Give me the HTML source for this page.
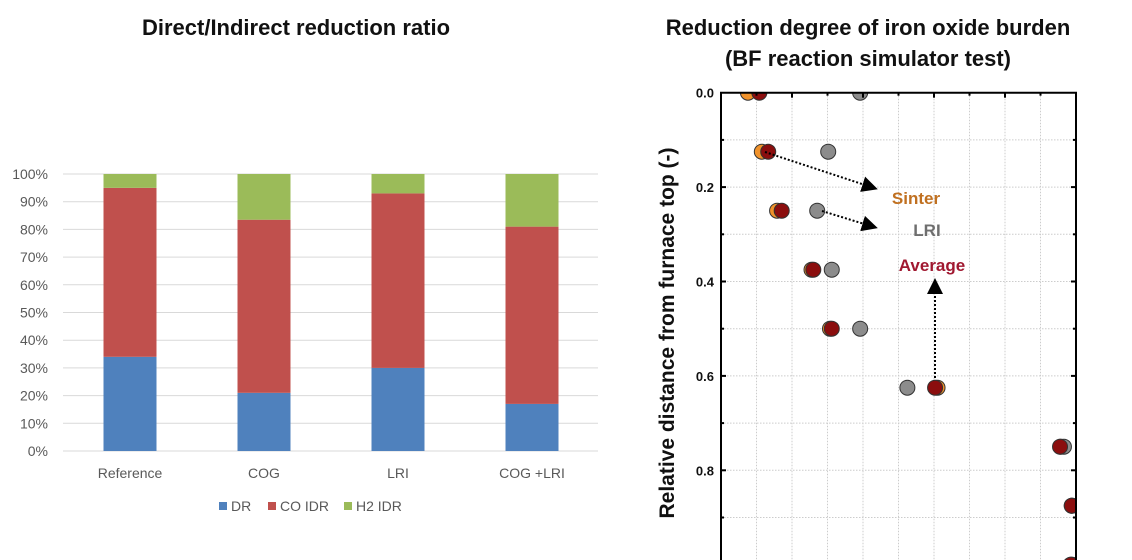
<!DOCTYPE html>
<html><head><meta charset="utf-8"><style>
html,body{margin:0;padding:0;background:#fff;overflow:hidden;}
svg{display:block;font-family:"Liberation Sans","Noto Sans CJK KR",sans-serif;}
</style></head><body>
<svg id="s" width="1132" height="560" viewBox="0 0 1132 560">
<text x="296" y="35" text-anchor="middle" font-size="22" font-weight="bold" fill="#111">Direct/Indirect reduction ratio</text>
<text x="868" y="35" text-anchor="middle" font-size="22" font-weight="bold" fill="#111">Reduction degree of iron oxide burden</text>
<text x="868" y="66" text-anchor="middle" font-size="22" font-weight="bold" fill="#111">(BF reaction simulator test)</text>
<g id="left"></g>
<g id="right"></g>
</svg>
<script>
const NS="http://www.w3.org/2000/svg";
function mk(p,t,a){const e=document.createElementNS(NS,t);for(const k in a)e.setAttribute(k,a[k]);p.appendChild(e);return e;}

// ---- left chart data
const categories=["Reference","COG","LRI","COG +LRI"];
const drValues=[34,21,30,17];
const coIdrValues=[61,62.5,63,64];
const h2IdrValues=[5,16.5,7,19];
const yTicksPct=[0,10,20,30,40,50,60,70,80,90,100];
const seriesNames=["DR","CO IDR","H2 IDR"];
const seriesColors=["#4f81bd","#c0504d","#9bbb59"];

const L=document.getElementById('left');
const ly=v=>451-v*2.77;
const lx=i=>130+i*134;
yTicksPct.forEach(t=>{
  const g=mk(L,'line',{x1:63,x2:598,y1:ly(t),y2:ly(t),stroke:'#d9d9d9','stroke-width':1});
  
  
  const tx=mk(L,'text',{x:48,y:ly(t)+5,'text-anchor':'end','font-size':14,fill:'#595959'});
  tx.textContent=t+'%';
  
  
});
categories.forEach((c,i)=>{
  const vals=[drValues[i],coIdrValues[i],h2IdrValues[i]];
  let base=0;
  vals.forEach((v,j)=>{
    const r=mk(L,'rect',{x:lx(i)-26.5,y:ly(base+v),width:53,height:ly(base)-ly(base+v),fill:seriesColors[j]});
    
    
    base+=v;
  });
  const t=mk(L,'text',{x:lx(i),y:478,'text-anchor':'middle','font-size':14,fill:'#595959'});
  t.textContent=c;
  
  
});
const legX=[219,268,344];
seriesNames.forEach((n,j)=>{
  const r=mk(L,'rect',{x:legX[j],y:502,width:8,height:8,fill:seriesColors[j]});
  
  
  const t=mk(L,'text',{x:legX[j]+12,y:511,'font-size':14,fill:'#595959'});
  t.textContent=n;
  
  
});

// ---- right chart data
const depthValues=[0,0.125,0.25,0.375,0.5,0.625,0.75,0.875,1.0];
const sinterX=[7.6,11.5,15.8,25.5,30.7,61,95.7,98.8,98.5];
const lriX=[39.2,30.2,27.1,31.2,39.2,52.5,96.6,99,99];
const averageX=[10.8,13.3,17.1,26,31.2,60.3,95.5,98.8,98.6];
const depthTicks=["0.0","0.2","0.4","0.6","0.8","1.0"];

const R=document.getElementById('right');
const rx=v=>721+3.55*v;
const ry=v=>92.7+472*v;
for(let k=1;k<10;k++){
  const g=mk(R,'line',{x1:rx(k*10),x2:rx(k*10),y1:92.7,y2:560,stroke:'#ccc','stroke-dasharray':'1.5,1.5'});
  
  
}
for(let k=1;k<10;k++){
  const g=mk(R,'line',{x1:721,x2:1076,y1:ry(k*0.1),y2:ry(k*0.1),stroke:'#ccc','stroke-dasharray':'1.5,1.5'});
  
  
}
const cl=mk(R,'clipPath',{id:'cp'});mk(cl,'rect',{x:700,y:92,width:376,height:468});
const pts=mk(R,'g',{'clip-path':'url(#cp)'});
function series(xs,fill,name){
  depthValues.forEach((d,i)=>{
    const c=mk(pts,'circle',{cx:rx(xs[i]),cy:ry(d),r:7.5,fill:fill,stroke:'#333','stroke-width':1});
    
    
  });
}
series(sinterX,'#f0922b','sinter');
series(lriX,'#8c8c8c','lri');
series(averageX,'#8b0e0e','average');

const fr=mk(R,'path',{d:'M721,560 L721,92.7 L1076,92.7 L1076,560',fill:'none',stroke:'#000','stroke-width':2});


for(let k=1;k<10;k++){
  const len=k%2?3:5;
  mk(R,'line',{x1:rx(k*10),x2:rx(k*10),y1:92.7,y2:92.7+len,stroke:'#000','stroke-width':2});
  mk(R,'line',{x1:721,x2:721+len,y1:ry(k*0.1),y2:ry(k*0.1),stroke:'#000','stroke-width':2});
  mk(R,'line',{x1:1076,x2:1076-len,y1:ry(k*0.1),y2:ry(k*0.1),stroke:'#000','stroke-width':2});
}
depthTicks.forEach(t=>{
  const v=parseFloat(t);
  const tx=mk(R,'text',{x:714,y:ry(v)+5,'text-anchor':'end','font-size':13,'font-weight':'bold',fill:'#111'});
  tx.textContent=t;
  
  
});
const yt=mk(R,'text',{x:0,y:0,'text-anchor':'middle','font-size':21,'font-weight':'bold',fill:'#111',transform:'translate(674,333) rotate(-90)'});
yt.textContent='Relative distance from furnace top (-)';



mk(R,'defs',{}).innerHTML='<marker id="ah" markerWidth="8" markerHeight="8" refX="6" refY="4" orient="auto"><path d="M0,0 L8,4 L0,8 z" fill="#000"/></marker>';
[[765,152,874,188],[822,211,874,227],[935,378,935,282]].forEach(a=>{
  const l=mk(R,'line',{x1:a[0],y1:a[1],x2:a[2],y2:a[3],stroke:'#000','stroke-width':2,'stroke-dasharray':'2,2','marker-end':'url(#ah)'});
  
  
});
[['Sinter',916,204,'#c07020'],['LRI',927,236,'#6e6e6e'],['Average',932,271,'#a01830']].forEach(a=>{
  const t=mk(R,'text',{x:a[1],y:a[2],'text-anchor':'middle','font-size':17,'font-weight':'bold',fill:a[3]});
  t.textContent=a[0];
  
  
});
</script>
</body></html>
